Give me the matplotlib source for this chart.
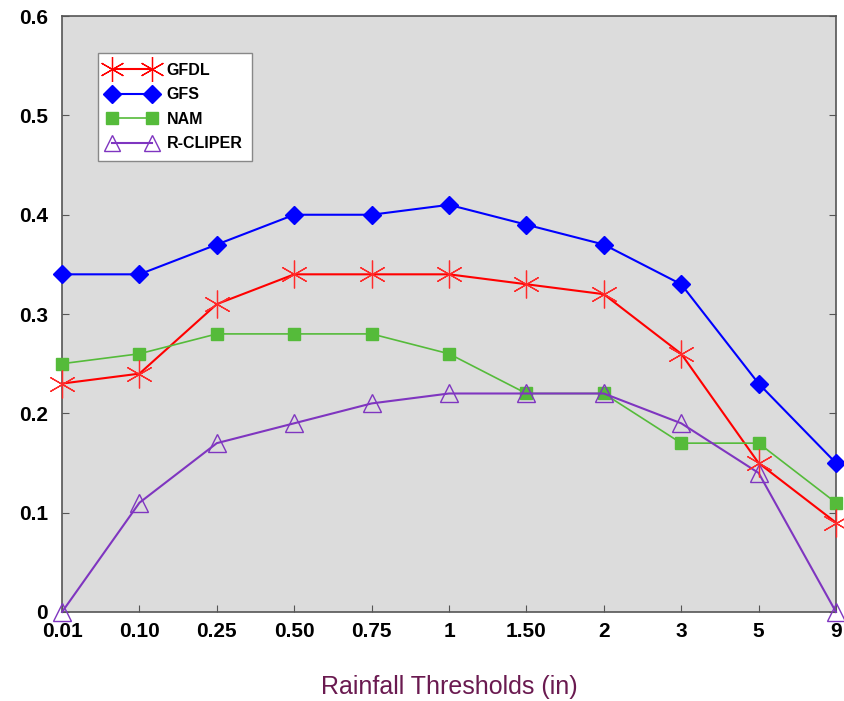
import numpy as np
import matplotlib.pyplot as plt
from matplotlib.lines import Line2D

plt.rcParams['font.family'] = ['Liberation Sans', 'DejaVu Sans']

# Rainfall thresholds (in) and scores per model
thresholds = ['0.01', '0.10', '0.25', '0.50', '0.75', '1', '1.50', '2', '3', '5', '9']
gfdl = [0.23, 0.24, 0.31, 0.34, 0.34, 0.34, 0.33, 0.32, 0.26, 0.15, 0.09]
gfs = [0.34, 0.34, 0.37, 0.40, 0.40, 0.41, 0.39, 0.37, 0.33, 0.23, 0.15]
nam = [0.25, 0.26, 0.28, 0.28, 0.28, 0.26, 0.22, 0.22, 0.17, 0.17, 0.11]
rcliper = [0.0, 0.11, 0.17, 0.19, 0.21, 0.22, 0.22, 0.22, 0.19, 0.14, 0.0]
yticks = [0, 0.1, 0.2, 0.3, 0.4, 0.5, 0.6]
ytick_labels = ['0', '0.1', '0.2', '0.3', '0.4', '0.5', '0.6']

x = np.arange(len(thresholds))

fig = plt.figure(figsize=(8.44, 7.01), dpi=100)
ax = fig.add_axes([0.0735, 0.127, 0.917, 0.850])
ax.set_facecolor('#dcdcdc')

star = (6, 2, 0)
ax.plot(x, gfdl, color='#ff0000', lw=1.5, zorder=3, clip_on=False)
ax.plot(x, gfdl, color='#ff2a2a', lw=0, marker=star, ms=20, mew=0.9, clip_on=False, zorder=4)
ax.plot(x, gfs, color='#0000ff', lw=1.5, marker='D', ms=9, clip_on=False, zorder=3)
ax.plot(x, nam, color='#55bb3a', lw=1.2, marker='s', ms=8, clip_on=False, zorder=3)
ax.plot(x, rcliper, color='#7f35c0', lw=1.5, marker='^', ms=13, mfc='none', mew=1.0,
        clip_on=False, zorder=3)

ax.set_xlim(0, len(thresholds) - 1)
ax.set_ylim(0, 0.6)
ax.set_xticks(x)
ax.set_xticklabels(thresholds, fontsize=15, fontweight='bold')
ax.set_yticks(yticks)
ax.set_yticklabels(ytick_labels, fontsize=15, fontweight='bold')
ax.tick_params(direction='in', length=5, color='#555555', top=False, right=True)
ax.tick_params(axis='x', pad=7)
ax.tick_params(axis='y', pad=10)
for s in ax.spines.values():
    s.set_color('#555555')
    s.set_linewidth(1.2)

ax.set_xlabel('Rainfall Thresholds (in)', fontsize=18, color='#6a1a50', labelpad=25)

# legend built with proxy handles so the asterisk marker shows properly
handles = [
    Line2D([], [], color='#ff0000', lw=1.5, marker=star, ms=18, mew=0.9),
    Line2D([], [], color='#0000ff', lw=1.5, marker='D', ms=9),
    Line2D([], [], color='#55bb3a', lw=1.2, marker='s', ms=8),
    Line2D([], [], color='#7f35c0', lw=1.5, marker='^', ms=12, mfc='none', mew=1.0),
]
leg = ax.legend(handles, ['GFDL', 'GFS', 'NAM', 'R-CLIPER'], loc='upper left',
                bbox_to_anchor=(0.0465, 0.938), fancybox=False, framealpha=1,
                edgecolor='#888888', handlelength=3.1, numpoints=2,
                prop={'weight': 'bold', 'size': 11.5}, labelspacing=0.6,
                borderpad=0.6, handletextpad=0.6, borderaxespad=0)
leg.get_frame().set_linewidth(1.0)

fig.savefig('out.png', dpi=100)
